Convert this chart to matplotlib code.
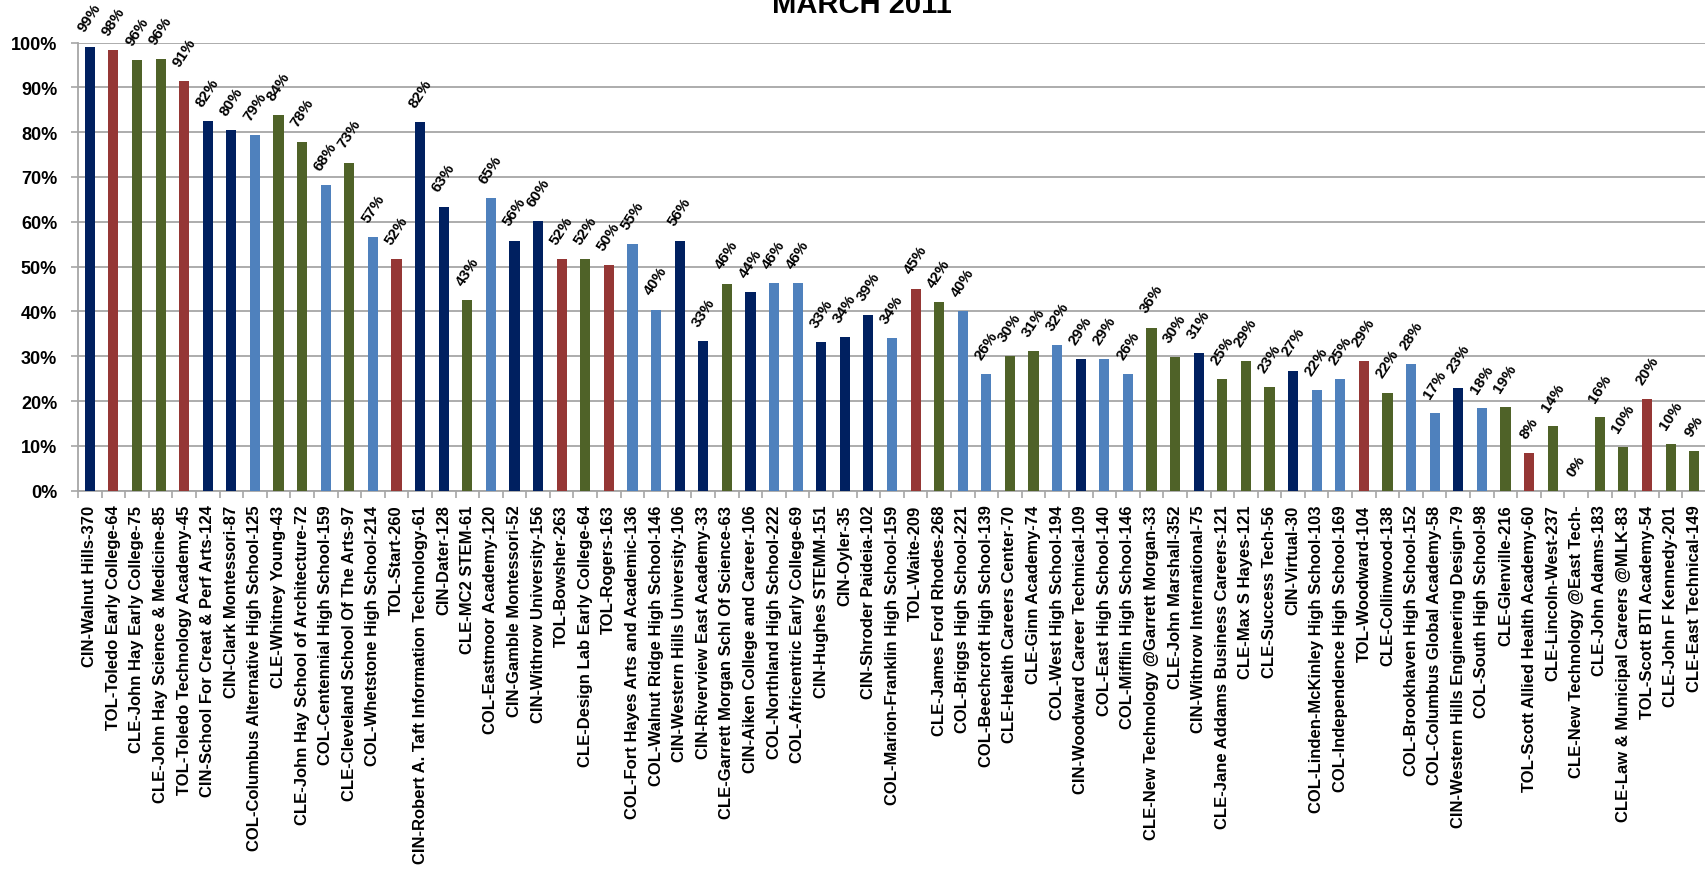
import matplotlib
matplotlib.use("Agg")
import matplotlib.pyplot as plt
from matplotlib.ticker import FixedLocator, FuncFormatter

plt.rcParams['font.family'] = ['Liberation Sans', 'DejaVu Sans']

# schools (city prefix - name - n) and rate in percent
schools = [
    "CIN-Walnut Hills-370", "TOL-Toledo Early College-64", "CLE-John Hay Early College-75",
    "CLE-John Hay Science & Medicine-85", "TOL-Toledo Technology Academy-45",
    "CIN-School For Creat & Perf Arts-124", "CIN-Clark Montessori-87",
    "COL-Columbus Alternative High School-125", "CLE-Whitney Young-43",
    "CLE-John Hay School of Architecture-72", "COL-Centennial High School-159",
    "CLE-Cleveland School Of The Arts-97", "COL-Whetstone High School-214", "TOL-Start-260",
    "CIN-Robert A. Taft Information Technology-61", "CIN-Dater-128", "CLE-MC2 STEM-61",
    "COL-Eastmoor Academy-120", "CIN-Gamble Montessori-52", "CIN-Withrow University-156",
    "TOL-Bowsher-263", "CLE-Design Lab Early College-64", "TOL-Rogers-163",
    "COL-Fort Hayes Arts and Academic-136", "COL-Walnut Ridge High School-146",
    "CIN-Western Hills University-106", "CIN-Riverview East Academy-33",
    "CLE-Garrett Morgan Schl Of Science-63", "CIN-Aiken College and Career-106",
    "COL-Northland High School-222", "COL-Africentric Early College-69", "CIN-Hughes STEMM-151",
    "CIN-Oyler-35", "CIN-Shroder Paideia-102", "COL-Marion-Franklin High School-159",
    "TOL-Waite-209", "CLE-James Ford Rhodes-268", "COL-Briggs High School-221",
    "COL-Beechcroft High School-139", "CLE-Health Careers Center-70", "CLE-Ginn Academy-74",
    "COL-West High School-194", "CIN-Woodward Career Technical-109", "COL-East High School-140",
    "COL-Mifflin High School-146", "CLE-New Technology @Garrett Morgan-33",
    "CLE-John Marshall-352", "CIN-Withrow International-75",
    "CLE-Jane Addams Business Careers-121", "CLE-Max S Hayes-121", "CLE-Success Tech-56",
    "CIN-Virtual-30", "COL-Linden-McKinley High School-103", "COL-Independence High School-169",
    "TOL-Woodward-104", "CLE-Collinwood-138", "COL-Brookhaven High School-152",
    "COL-Columbus Global Academy-58", "CIN-Western Hills Engineering Design-79",
    "COL-South High School-98", "CLE-Glenville-216", "TOL-Scott Allied Health Academy-60",
    "CLE-Lincoln-West-237", "CLE-New Technology @East Tech-", "CLE-John Adams-183",
    "CLE-Law & Municipal Careers @MLK-83", "TOL-Scott BTI Academy-54",
    "CLE-John F Kennedy-201", "CLE-East Technical-149",
]
rates = [
    99.1, 98.4, 96.0, 96.4, 91.3, 82.4, 80.4, 79.3, 83.9, 77.9,
    68.1, 73.2, 56.6, 51.6, 82.2, 63.4, 42.6, 65.2, 55.8, 60.2,
    51.7, 51.6, 50.4, 55.1, 40.4, 55.8, 33.4, 46.2, 44.4, 46.4,
    46.4, 33.2, 34.3, 39.2, 34.1, 45.1, 42.0, 40.0, 26.1, 30.1,
    31.2, 32.4, 29.4, 29.4, 26.1, 36.4, 29.9, 30.8, 25.0, 29.0,
    23.2, 26.8, 22.4, 25.0, 29.0, 21.9, 28.3, 17.4, 23.0, 18.4,
    18.7, 8.4, 14.4, 0.0, 16.4, 9.7, 20.4, 10.4, 8.8,
]
yticks = [0, 10, 20, 30, 40, 50, 60, 70, 80, 90, 100]

city_colors = {"CIN": "#002060", "TOL": "#953735", "CLE": "#4F6228", "COL": "#4F81BD"}
colors = [city_colors[s[:3]] for s in schools]

fig = plt.figure(figsize=(17.06, 8.78), dpi=100)
ax = fig.add_axes([78 / 1706, 1 - 491.7 / 878, 1 - 78 / 1706, (491.7 - 43.5) / 878])

x = list(range(len(schools)))
ax.bar(x, rates, width=0.43, color=colors, zorder=3)

# data labels, tilted like the original
for xi, v in zip(x, rates):
    ax.annotate(f"{v:.0f}%", (xi, v), xytext=(0, 9), textcoords='offset points',
                ha='center', va='bottom', rotation=57, fontsize=11,
                fontweight='bold', color='black', annotation_clip=False)

ax.set_xlim(-0.5, len(schools) - 0.5)
ax.set_ylim(0, 100)
ax.set_yticks(yticks)
ax.yaxis.set_major_formatter(FuncFormatter(lambda v, p: f"{v:.0f}%"))
ax.grid(axis='y', color='#A6A6A6', linewidth=1.3, zorder=0)

ax.set_xticks(x)
ax.set_xticklabels(schools, rotation=90, fontsize=12, fontweight='bold')
ax.tick_params(axis='x', length=0, pad=10)
ax.xaxis.set_minor_locator(FixedLocator([i - 0.5 for i in range(len(schools) + 1)]))
ax.tick_params(axis='x', which='minor', length=5, color='#A6A6A6', width=1.2)
ax.tick_params(axis='y', length=5, color='#A6A6A6', width=1.2, pad=10)
for lab in ax.get_yticklabels():
    lab.set_fontsize(13)
    lab.set_fontweight('bold')

for side in ['top', 'right']:
    ax.spines[side].set_visible(False)
ax.spines['left'].set_color('#A6A6A6')
ax.spines['bottom'].set_color('#A6A6A6')
ax.spines['left'].set_linewidth(1.3)
ax.spines['bottom'].set_linewidth(1.3)

fig.text(862 / 1706, 1 - 13 / 878, "MARCH 2011", ha='center', va='baseline',
         fontsize=21, fontweight='bold')

fig.savefig("out.png", dpi=100)
